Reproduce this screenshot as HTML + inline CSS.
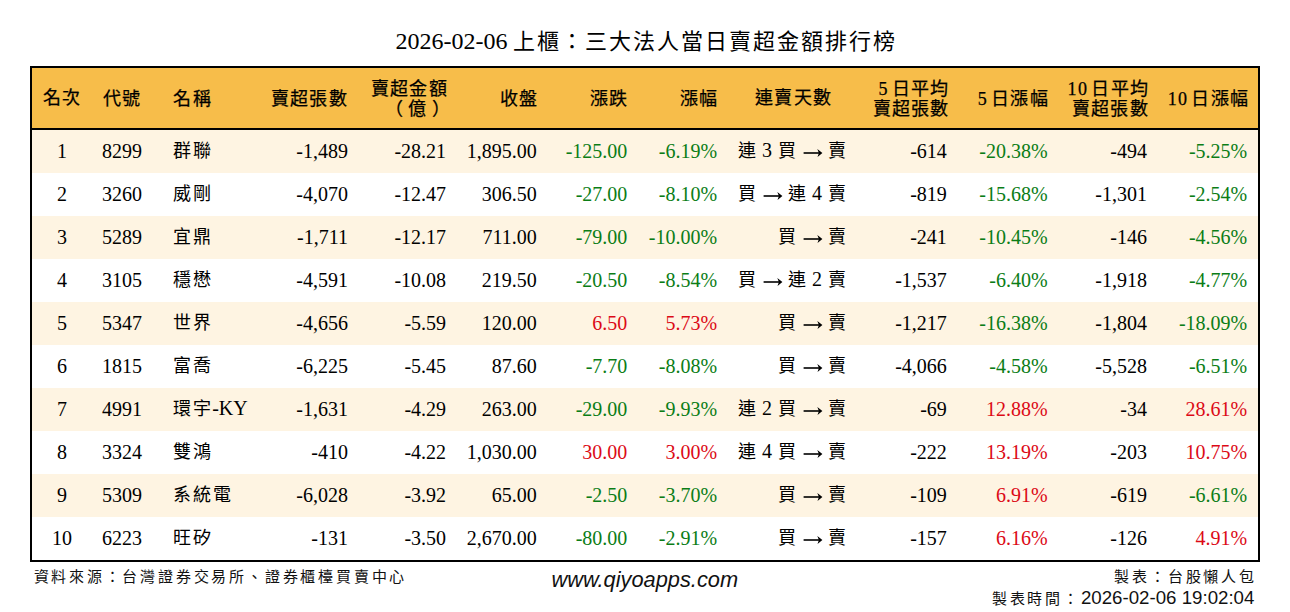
<!DOCTYPE html>
<html lang="zh-TW">
<head>
<meta charset="utf-8">
<title>2026-02-06 上櫃：三大法人當日賣超金額排行榜</title>
<style>
html,body{margin:0;padding:0;background:#fff;}
body{width:1290px;height:612px;position:relative;overflow:hidden;font-family:"Liberation Serif",serif;color:#000;}
h1{position:absolute;left:1.5px;top:26px;width:1290px;margin:0;text-align:center;font-size:24px;font-weight:normal;line-height:30px;}
table{position:absolute;left:30px;top:66px;border:2px solid #000;border-collapse:collapse;table-layout:fixed;width:1230px;}
th{background:#F7BD4A;height:58px;padding:2px 8.7px 0 10px;font-size:18px;letter-spacing:1.3px;font-weight:normal;-webkit-text-stroke:0.25px #000;line-height:20.5px;border-bottom:2px solid #000;vertical-align:middle;white-space:nowrap;}
td{height:41px;padding:0 10px 2px;font-size:20px;line-height:24px;vertical-align:middle;white-space:nowrap;}
tr.o td{background:#FEF4E2;}
tr.e td{background:#fff;}
.c{text-align:center;}
td.c{padding:0 0 2px;}
th.c{padding:0;}
th.l{padding-left:11px;}
.l{text-align:left;}
.n{margin-right:3px;}
.k{font-size:18px;letter-spacing:2px;position:relative;left:1px;}
h1 .t{font-size:22px;letter-spacing:2px;}
th.days{padding-left:5px;}
td.dy{padding-right:8.5px;}
.p1,.p2,.p3{position:relative;}
.p1{left:-5.5px;}
.p2{left:-1.3px;}
.p3{left:3px;}
.r{text-align:right;}
.g{color:#0b7d16;}
.ar{position:relative;display:inline-block;width:20px;color:transparent;font-size:20px;}
.ar svg{position:absolute;left:0.8px;top:50%;margin-top:-1.8px;}
td.red{color:#dc0a16;}
.foot{position:absolute;font-size:15px;letter-spacing:2.8px;line-height:20px;color:#111;font-weight:300;}
.src{left:33.5px;top:567px;}
.url{left:551.5px;top:568px;font-family:"Liberation Sans",sans-serif;font-style:italic;font-size:21.8px;line-height:24px;letter-spacing:0;font-weight:normal;}
.by{right:33.2px;top:567px;text-align:right;}
.tm{right:35.6px;top:588px;text-align:right;}
.tm span{font-family:"Liberation Sans",sans-serif;font-size:18.7px;letter-spacing:0;font-weight:normal;}
</style>
</head>
<body>
<h1>2026-02-06 <span class="t">上櫃：三大法人當日賣超金額排行榜</span></h1>
<table>
<colgroup><col style="width:61px"><col style="width:70px"><col style="width:94px"><col style="width:100px"><col style="width:100px"><col style="width:90px"><col style="width:90px"><col style="width:90px"><col style="width:128px"><col style="width:103px"><col style="width:99px"><col style="width:100px"><col style="width:101px"></colgroup>
<thead><tr><th class="c">名次</th><th class="l">代號</th><th class="l">名稱</th><th class="r">賣超張數</th><th class="r">賣超金額<br><span class="p1">（</span><span class="p2">億</span><span class="p3">）</span></th><th class="r">收盤</th><th class="r">漲跌</th><th class="r">漲幅</th><th class="c days">連賣天數</th><th class="r"><span class="n">5</span>日平均<br>賣超張數</th><th class="r"><span class="n">5</span>日漲幅</th><th class="r"><span class="n">10</span>日平均<br>賣超張數</th><th class="r"><span class="n">10</span>日漲幅</th></tr></thead>
<tbody>
<tr class="o"><td class="c">1</td><td class="l">8299</td><td class="l"><span class="k">群聯</span></td><td style="padding-right:8.6px" class="r">-1,489</td><td style="padding-right:10.6px" class="r">-28.21</td><td class="r">1,895.00</td><td style="padding-right:9.6px" class="r g">-125.00</td><td class="r g">-6.19%</td><td class="r dy"><span class="k">連</span> 3 <span class="k">買</span> <span class="ar">→<svg width="20" height="10" viewBox="0 0 20 10"><path d="M0.6 5H18" stroke="#000" stroke-width="1.6" fill="none"/><path d="M14.3 1.1L19.4 5L14.5 8.9L15.9 5Z" fill="#000"/></svg></span> <span class="k">賣</span></td><td style="padding-right:11.6px" class="r">-614</td><td class="r g">-20.38%</td><td style="padding-right:10.8px" class="r">-494</td><td style="padding-right:10.8px" class="r g">-5.25%</td></tr>
<tr class="e"><td class="c">2</td><td class="l">3260</td><td class="l"><span class="k">威剛</span></td><td style="padding-right:8.6px" class="r">-4,070</td><td style="padding-right:10.6px" class="r">-12.47</td><td class="r">306.50</td><td style="padding-right:9.6px" class="r g">-27.00</td><td class="r g">-8.10%</td><td class="r dy"><span class="k">買</span> <span class="ar">→<svg width="20" height="10" viewBox="0 0 20 10"><path d="M0.6 5H18" stroke="#000" stroke-width="1.6" fill="none"/><path d="M14.3 1.1L19.4 5L14.5 8.9L15.9 5Z" fill="#000"/></svg></span> <span class="k">連</span> 4 <span class="k">賣</span></td><td style="padding-right:11.6px" class="r">-819</td><td class="r g">-15.68%</td><td style="padding-right:10.8px" class="r">-1,301</td><td style="padding-right:10.8px" class="r g">-2.54%</td></tr>
<tr class="o"><td class="c">3</td><td class="l">5289</td><td class="l"><span class="k">宜鼎</span></td><td style="padding-right:8.6px" class="r">-1,711</td><td style="padding-right:10.6px" class="r">-12.17</td><td class="r">711.00</td><td style="padding-right:9.6px" class="r g">-79.00</td><td class="r g">-10.00%</td><td class="r dy"><span class="k">買</span> <span class="ar">→<svg width="20" height="10" viewBox="0 0 20 10"><path d="M0.6 5H18" stroke="#000" stroke-width="1.6" fill="none"/><path d="M14.3 1.1L19.4 5L14.5 8.9L15.9 5Z" fill="#000"/></svg></span> <span class="k">賣</span></td><td style="padding-right:11.6px" class="r">-241</td><td class="r g">-10.45%</td><td style="padding-right:10.8px" class="r">-146</td><td style="padding-right:10.8px" class="r g">-4.56%</td></tr>
<tr class="e"><td class="c">4</td><td class="l">3105</td><td class="l"><span class="k">穩懋</span></td><td style="padding-right:8.6px" class="r">-4,591</td><td style="padding-right:10.6px" class="r">-10.08</td><td class="r">219.50</td><td style="padding-right:9.6px" class="r g">-20.50</td><td class="r g">-8.54%</td><td class="r dy"><span class="k">買</span> <span class="ar">→<svg width="20" height="10" viewBox="0 0 20 10"><path d="M0.6 5H18" stroke="#000" stroke-width="1.6" fill="none"/><path d="M14.3 1.1L19.4 5L14.5 8.9L15.9 5Z" fill="#000"/></svg></span> <span class="k">連</span> 2 <span class="k">賣</span></td><td style="padding-right:11.6px" class="r">-1,537</td><td class="r g">-6.40%</td><td style="padding-right:10.8px" class="r">-1,918</td><td style="padding-right:10.8px" class="r g">-4.77%</td></tr>
<tr class="o"><td class="c">5</td><td class="l">5347</td><td class="l"><span class="k">世界</span></td><td style="padding-right:8.6px" class="r">-4,656</td><td style="padding-right:10.6px" class="r">-5.59</td><td class="r">120.00</td><td style="padding-right:9.6px" class="r red">6.50</td><td class="r red">5.73%</td><td class="r dy"><span class="k">買</span> <span class="ar">→<svg width="20" height="10" viewBox="0 0 20 10"><path d="M0.6 5H18" stroke="#000" stroke-width="1.6" fill="none"/><path d="M14.3 1.1L19.4 5L14.5 8.9L15.9 5Z" fill="#000"/></svg></span> <span class="k">賣</span></td><td style="padding-right:11.6px" class="r">-1,217</td><td class="r g">-16.38%</td><td style="padding-right:10.8px" class="r">-1,804</td><td style="padding-right:10.8px" class="r g">-18.09%</td></tr>
<tr class="e"><td class="c">6</td><td class="l">1815</td><td class="l"><span class="k">富喬</span></td><td style="padding-right:8.6px" class="r">-6,225</td><td style="padding-right:10.6px" class="r">-5.45</td><td class="r">87.60</td><td style="padding-right:9.6px" class="r g">-7.70</td><td class="r g">-8.08%</td><td class="r dy"><span class="k">買</span> <span class="ar">→<svg width="20" height="10" viewBox="0 0 20 10"><path d="M0.6 5H18" stroke="#000" stroke-width="1.6" fill="none"/><path d="M14.3 1.1L19.4 5L14.5 8.9L15.9 5Z" fill="#000"/></svg></span> <span class="k">賣</span></td><td style="padding-right:11.6px" class="r">-4,066</td><td class="r g">-4.58%</td><td style="padding-right:10.8px" class="r">-5,528</td><td style="padding-right:10.8px" class="r g">-6.51%</td></tr>
<tr class="o"><td class="c">7</td><td class="l">4991</td><td class="l"><span class="k">環宇</span>-KY</td><td style="padding-right:8.6px" class="r">-1,631</td><td style="padding-right:10.6px" class="r">-4.29</td><td class="r">263.00</td><td style="padding-right:9.6px" class="r g">-29.00</td><td class="r g">-9.93%</td><td class="r dy"><span class="k">連</span> 2 <span class="k">買</span> <span class="ar">→<svg width="20" height="10" viewBox="0 0 20 10"><path d="M0.6 5H18" stroke="#000" stroke-width="1.6" fill="none"/><path d="M14.3 1.1L19.4 5L14.5 8.9L15.9 5Z" fill="#000"/></svg></span> <span class="k">賣</span></td><td style="padding-right:11.6px" class="r">-69</td><td class="r red">12.88%</td><td style="padding-right:10.8px" class="r">-34</td><td style="padding-right:10.8px" class="r red">28.61%</td></tr>
<tr class="e"><td class="c">8</td><td class="l">3324</td><td class="l"><span class="k">雙鴻</span></td><td style="padding-right:8.6px" class="r">-410</td><td style="padding-right:10.6px" class="r">-4.22</td><td class="r">1,030.00</td><td style="padding-right:9.6px" class="r red">30.00</td><td class="r red">3.00%</td><td class="r dy"><span class="k">連</span> 4 <span class="k">買</span> <span class="ar">→<svg width="20" height="10" viewBox="0 0 20 10"><path d="M0.6 5H18" stroke="#000" stroke-width="1.6" fill="none"/><path d="M14.3 1.1L19.4 5L14.5 8.9L15.9 5Z" fill="#000"/></svg></span> <span class="k">賣</span></td><td style="padding-right:11.6px" class="r">-222</td><td class="r red">13.19%</td><td style="padding-right:10.8px" class="r">-203</td><td style="padding-right:10.8px" class="r red">10.75%</td></tr>
<tr class="o"><td class="c">9</td><td class="l">5309</td><td class="l"><span class="k">系統電</span></td><td style="padding-right:8.6px" class="r">-6,028</td><td style="padding-right:10.6px" class="r">-3.92</td><td class="r">65.00</td><td style="padding-right:9.6px" class="r g">-2.50</td><td class="r g">-3.70%</td><td class="r dy"><span class="k">買</span> <span class="ar">→<svg width="20" height="10" viewBox="0 0 20 10"><path d="M0.6 5H18" stroke="#000" stroke-width="1.6" fill="none"/><path d="M14.3 1.1L19.4 5L14.5 8.9L15.9 5Z" fill="#000"/></svg></span> <span class="k">賣</span></td><td style="padding-right:11.6px" class="r">-109</td><td class="r red">6.91%</td><td style="padding-right:10.8px" class="r">-619</td><td style="padding-right:10.8px" class="r g">-6.61%</td></tr>
<tr class="e"><td class="c">10</td><td class="l">6223</td><td class="l"><span class="k">旺矽</span></td><td style="padding-right:8.6px" class="r">-131</td><td style="padding-right:10.6px" class="r">-3.50</td><td class="r">2,670.00</td><td style="padding-right:9.6px" class="r g">-80.00</td><td class="r g">-2.91%</td><td class="r dy"><span class="k">買</span> <span class="ar">→<svg width="20" height="10" viewBox="0 0 20 10"><path d="M0.6 5H18" stroke="#000" stroke-width="1.6" fill="none"/><path d="M14.3 1.1L19.4 5L14.5 8.9L15.9 5Z" fill="#000"/></svg></span> <span class="k">賣</span></td><td style="padding-right:11.6px" class="r">-157</td><td class="r red">6.16%</td><td style="padding-right:10.8px" class="r">-126</td><td style="padding-right:10.8px" class="r red">4.91%</td></tr>
</tbody>
</table>
<div class="foot src">資料來源：台灣證券交易所、證券櫃檯買賣中心</div>
<div class="foot url">www.qiyoapps.com</div>
<div class="foot by">製表：台股懶人包</div>
<div class="foot tm">製表時間：<span>2026-02-06 19:02:04</span></div>
</body>
</html>
